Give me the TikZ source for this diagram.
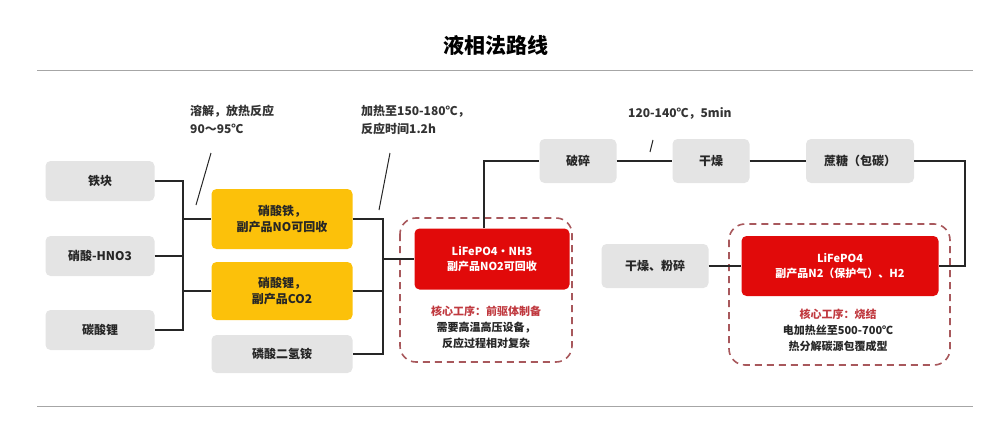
\documentclass[tikz,border=0pt]{standalone}
\usepackage{fontspec}
\setmainfont{Noto Sans CJK SC}
\usetikzlibrary{positioning}
\definecolor{gbox}{HTML}{E4E4E4}
\definecolor{ybox}{HTML}{FCC10A}
\definecolor{rbox}{HTML}{E10A0A}
\definecolor{dash}{HTML}{A8585C}
\definecolor{rtxt}{HTML}{C0393F}
\begin{document}
\begin{tikzpicture}[x=1pt,y=-1pt,
  box/.style={rounded corners=5pt,align=center,font=\fontsize{12}{16}\selectfont\bfseries,inner sep=0pt,text=black!85},
  g/.style={box,fill=gbox},
  yb/.style={box,fill=ybox},
  rb/.style={box,fill=rbox,text=white,font=\fontsize{11}{15}\selectfont\bfseries},
  dz/.style={draw=dash,line width=1.6pt,dash pattern=on 7pt off 5pt,rounded corners=16pt},
  ln/.style={line width=1.3pt,black!85},
  note/.style={font=\fontsize{12}{18}\selectfont\bfseries,text=black!80,align=left,anchor=north west,inner sep=0pt}]
\useasboundingbox (0,0) rectangle (993,423);
\node[font=\fontsize{21}{24}\selectfont\bfseries] (title) at (496,45) {液相法路线};
\draw[gray!70,line width=0.8pt] (37,70) -- (973,70);
\draw[gray!70,line width=0.8pt] (37,406) -- (973,406);
% left boxes
\node[g,minimum width=109pt,minimum height=40pt] (tk) at (100,181) {铁块};
\node[g,minimum width=109pt,minimum height=40pt] (xs) at (100,256) {硝酸-HNO3};
\node[g,minimum width=109pt,minimum height=40pt] (ts) at (100,330) {碳酸锂};
\node[yb,minimum width=141pt,minimum height=60pt] (y1) at (282,219) {硝酸铁，\\副产品NO可回收};
\node[yb,minimum width=141pt,minimum height=58pt] (y2) at (282,291) {硝酸锂，\\副产品CO2};
\node[g,minimum width=141pt,minimum height=38pt] (lq) at (282,354) {磷酸二氢铵};
% junction 1
\coordinate (j1a) at (183,181); \coordinate (j1b) at (183,330);
\draw[ln] (tk.east) -- (j1a) -- (j1b) -- (ts.east);
\draw[ln] (xs.east) -- (183,256);
\draw[ln] (183,219) -- (y1.west);
\draw[ln] (183,291) -- (y2.west);
% red box 1
\draw[dz] (400,218) rectangle (572,362);
\node[rb,minimum width=155pt,minimum height=61pt] (r1) at (492,259) {LiFePO4·NH3\\副产品NO2可回收};
\node[align=center,inner sep=0pt,text=black!85,font=\fontsize{11}{16}\selectfont\bfseries] (t1) at (486,327) {\textcolor{rtxt}{核心工序：前驱体制备}\\需要高温高压设备，\\反应过程相对复杂};
\coordinate (j2a) at (383,219); \coordinate (j2b) at (383,354);
\draw[ln] (y1.east) -- (j2a) -- (j2b) -- (lq.east);
\draw[ln] (y2.east) -- (383,291);
\draw[ln] (383,259) -- (r1.west);
% top row
\node[g,minimum width=77pt,minimum height=44pt] (ps) at (578,161) {破碎};
\node[g,minimum width=77pt,minimum height=44pt] (gz) at (711,161) {干燥};
\node[g,minimum width=108pt,minimum height=44pt] (zt) at (860,161) {蔗糖（包碳）};
\draw[ln] (r1.north -| 484,0) -- (484,161) -- (ps.west);
\draw[ln] (ps) -- (gz);
\draw[ln] (gz) -- (zt);
% red box 2
\draw[dz] (729,224) rectangle (950,365);
\node[rb,minimum width=197pt,minimum height=60pt] (r2) at (840,266) {LiFePO4\\副产品N2（保护气）、H2};
\node[align=center,inner sep=0pt,text=black!85,font=\fontsize{11}{16}\selectfont\bfseries] (t2) at (838,330) {\textcolor{rtxt}{核心工序：烧结}\\电加热丝至500-700℃\\热分解碳源包覆成型};
\coordinate (c1) at (965,161); \coordinate (c2) at (965,266);
\draw[ln] (zt.east) -- (c1) -- (c2) -- (r2.east);
\node[g,minimum width=107pt,minimum height=44pt] (fs) at (655,266) {干燥、粉碎};
\draw[ln] (fs) -- (r2);
% notes
\node[note] (n1) at (190,105) {溶解，放热反应\\90～95℃};
\draw[ln,line width=1pt] (211,153) -- (196,205);
\node[note] (n2) at (361,105) {加热至150-180℃，\\反应时间1.2h};
\draw[ln,line width=1pt] (390,153) -- (379,210);
\node[note] (n3) at (628,107) {120-140℃，5min};
\draw[ln,line width=1pt] (653,140) -- (650,152);
\end{tikzpicture}
\end{document}
